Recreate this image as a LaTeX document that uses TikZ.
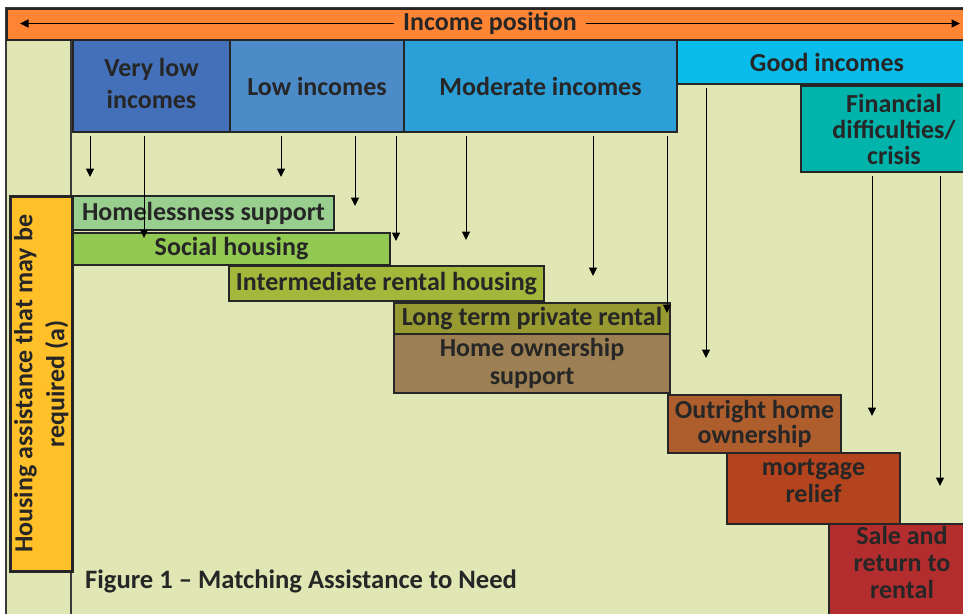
\documentclass[tikz,border=0pt]{standalone}
\usepackage{fontspec}
\setmainfont{Carlito}
\usetikzlibrary{arrows.meta,calc}

\definecolor{ink}{HTML}{262626}
\definecolor{frame}{HTML}{3A3A3A}
\definecolor{panel}{HTML}{E0E6B4}
\definecolor{cBar}{HTML}{FF8433}
\definecolor{cSide}{HTML}{FFC02A}
\definecolor{cVlow}{HTML}{4370B8}
\definecolor{cLow}{HTML}{4C8BC8}
\definecolor{cMod}{HTML}{2BA0D8}
\definecolor{cGood}{HTML}{0ABCE9}
\definecolor{cFin}{HTML}{00B4AC}
\definecolor{cHomeless}{HTML}{98CF8F}
\definecolor{cSocial}{HTML}{92C952}
\definecolor{cInter}{HTML}{A3B83B}
\definecolor{cLong}{HTML}{969A30}
\definecolor{cOwnSup}{HTML}{9C7F52}
\definecolor{cOutright}{HTML}{AE5E2D}
\definecolor{cMortgage}{HTML}{B3441D}
\definecolor{cSale}{HTML}{B32D2F}

\newcommand\lblfont{\bfseries\fontsize{26}{28}\selectfont}

\tikzset{
  tile/.style={draw=ink, line width=2pt, anchor=north west, inner sep=0pt,
    align=center, text=ink, font=\lblfont},
  lbl/.style={text=ink, font=\lblfont, align=center, inner sep=0pt},
  arr/.style={draw=black, line width=1pt, -{Triangle[length=8.5pt,width=8pt]}},
}

\begin{document}
\begin{tikzpicture}[x=1pt,y=-1pt]
\clip (0,0) rectangle (963,613);
\fill[white] (0,0) rectangle (963,613);

% panel and left column
\draw[fill=panel, draw=frame, line width=1.5pt] (6,8) rectangle (990,625);
\draw[frame, line width=1.5pt] (71,39) -- (71,625);

% income position bar
\node[tile, fill=cBar, minimum width=984, minimum height=31] (bar) at (6,8) {};
\node[lbl, inner xsep=9pt] (title) at (490,23.5) {Income position};
\coordinate (barL) at (20,23.5);
\coordinate (barR) at (960,23.5);
\draw[arr] (title.west) -- (barL);
\draw[arr] (title.east) -- (barR);

% income bands
\node[tile, fill=cVlow, minimum width=157, minimum height=92] (vlow) at (72,39) {};
\node[lbl, font=\bfseries\fontsize{26}{32}\selectfont] (vlowtext) at ([yshift=3pt]vlow.center) {Very low\\incomes};
\node[tile, fill=cLow, minimum width=174, minimum height=92] (low) at (229,39) {Low incomes};
\node[tile, fill=cMod, minimum width=273, minimum height=92] (mod) at (403,39) {Moderate incomes};
\node[tile, fill=cGood, minimum width=300, minimum height=44] (good) at (676,39) {Good incomes};
\node[tile, fill=cFin, minimum width=186, minimum height=86,
      font=\bfseries\fontsize{26}{26}\selectfont] (fin) at (800,85) {Financial\\difficulties/\\crisis};

% housing assistance steps
\node[tile, fill=cHomeless, minimum width=261, minimum height=34] (homeless) at (72,195) {Homelessness support};
\node[tile, fill=cSocial, minimum width=317, minimum height=32] (social) at (72,232) {Social housing};
\node[tile, fill=cInter, minimum width=315, minimum height=35] (inter) at (228,265) {Intermediate rental housing};
\node[tile, fill=cLong, minimum width=276, minimum height=31] (long) at (393,302) {Long term private rental};
\node[tile, fill=cOwnSup, minimum width=276, minimum height=59] (ownsup) at (393,333) {Home ownership\\support};
\node[tile, fill=cOutright, minimum width=173, minimum height=58,
      font=\bfseries\fontsize{26}{25}\selectfont] (outright) at (667,394) {Outright home\\ownership};
\node[tile, fill=cMortgage, minimum width=173, minimum height=71] (mortgage) at (726,452) {};
\node[lbl, font=\bfseries\fontsize{26}{27}\selectfont] (mortgagetext) at ([yshift=8pt]mortgage.center) {mortgage\\relief};
\node[tile, fill=cSale, minimum width=150, minimum height=110] (sale) at (828,523) {};
\node[lbl, font=\bfseries\fontsize{26}{27}\selectfont] (saletext) at (902,562) {Sale and\\return to\\rental};

% arrow ends
\coordinate (e1) at (90,177);
\coordinate (e2) at (144,238);
\coordinate (e3) at (281,177);
\coordinate (e4) at (355,206);
\coordinate (e5) at (396,241);
\coordinate (e6) at (466,240);
\coordinate (e7) at (593,276);
\coordinate (e8) at (667,313);
\coordinate (e9) at (706,358);
\coordinate (e10) at (872,416);
\coordinate (e11) at (940,486);

\draw[arr] ([yshift=-3pt]e1 |- vlow.south) -- (e1);
\draw[arr] ([yshift=-3pt]e2 |- vlow.south) -- (e2);
\draw[arr] ([yshift=-3pt]e3 |- low.south) -- (e3);
\draw[arr] ([yshift=-3pt]e4 |- low.south) -- (e4);
\draw[arr] ([yshift=-3pt]e5 |- low.south) -- (e5);
\draw[arr] ([yshift=-3pt]e6 |- mod.south) -- (e6);
\draw[arr] ([yshift=-3pt]e7 |- mod.south) -- (e7);
\draw[arr] ([yshift=-3pt]e8 |- mod.south) -- (e8);
\draw[arr] ([yshift=-3pt]e9 |- good.south) -- (e9);
\draw[arr] ([yshift=-3pt]e10 |- fin.south) -- (e10);
\draw[arr] ([yshift=-3pt]e11 |- fin.south) -- (e11);

% vertical axis label
\node[tile, fill=cSide, line width=2.8pt, minimum width=62, minimum height=375] (side) at (9,195) {};
\node[lbl, rotate=90, font=\bfseries\fontsize{26}{32}\selectfont] (sidetext) at (side.center)
  {Housing assistance that may be\\required (a)};

% caption
\node[lbl, anchor=base west, font=\bfseries\fontsize{26.6}{30}\selectfont] (caption) at (85,588)
  {Figure 1 -- Matching Assistance to Need};
\end{tikzpicture}
\end{document}
